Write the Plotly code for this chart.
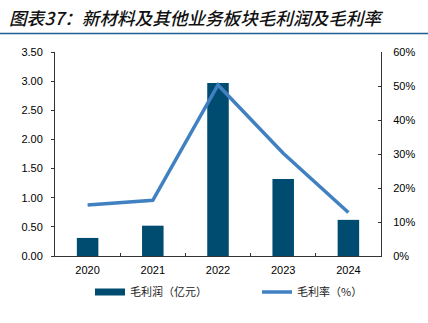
import plotly.graph_objects as go

years = ["2020", "2021", "2022", "2023", "2024"]
gross_profit = [0.31, 0.52, 2.97, 1.32, 0.62]   # 亿元
gross_margin = [15.0, 16.4, 50.3, 30.2, 12.8]   # %

BAR_COLOR = "#004B70"
LINE_COLOR = "#4181C2"

W, H = 428, 323
L, R, T, B = 55, 47, 52, 67
pw, ph = W - L - R, H - T - B

def px_x(x):
    return (x - L) / pw

def px_y(y):
    return (H - B - y) / ph

fig = go.Figure()
fig.add_trace(go.Bar(
    x=years, y=gross_profit, name="毛利润（亿元）",
    marker=dict(color=BAR_COLOR, line=dict(width=0)),
    width=0.33, yaxis="y", showlegend=False,
))
# legend proxy for the bar series (wide rectangle swatch)
fig.add_trace(go.Scatter(
    x=[None], y=[None], name="毛利润（亿元）", mode="lines",
    line=dict(color=BAR_COLOR, width=7), legend="legend", yaxis="y",
))
fig.add_trace(go.Scatter(
    x=years, y=gross_margin, name="毛利率（%）",
    mode="lines", line=dict(color=LINE_COLOR, width=3.5),
    yaxis="y2", legend="legend2",
))

tickfont = dict(family="Liberation Sans, Arial, sans-serif", size=11, color="#000")
legfont = dict(family="Noto Sans CJK SC", size=11, color="#222")

fig.update_layout(
    width=W, height=H,
    margin=dict(l=L, r=R, t=T, b=B),
    paper_bgcolor="white", plot_bgcolor="white",
    showlegend=True,
    legend=dict(
        orientation="h", x=px_x(90), y=px_y(292), xanchor="left", yanchor="middle",
        font=legfont, itemwidth=30, bgcolor="rgba(0,0,0,0)",
    ),
    legend2=dict(
        orientation="h", x=px_x(257), y=px_y(292), xanchor="left", yanchor="middle",
        font=legfont, itemwidth=30, bgcolor="rgba(0,0,0,0)",
    ),
    xaxis=dict(
        type="category", showgrid=False, showline=True, linecolor="#333", linewidth=1,
        ticks="inside", tickson="boundaries", ticklen=3, tickcolor="#333",
        tickfont=tickfont, range=[-0.5, 4.5], ticklabelstandoff=4,
    ),
    yaxis=dict(
        range=[0, 3.5], dtick=0.5, tickformat=".2f", showgrid=False,
        showline=True, linecolor="#333", linewidth=1, ticks="outside", ticklen=3,
        tickcolor="#333", tickfont=tickfont, zeroline=False, ticklabelstandoff=6,
    ),
    yaxis2=dict(
        range=[0, 60], dtick=10, ticksuffix="%", overlaying="y", side="right",
        showgrid=False, showline=True, linecolor="#333", linewidth=1,
        ticks="inside", ticklen=3, tickcolor="#333", tickfont=tickfont, zeroline=False,
        ticklabelstandoff=9,
    ),
    bargap=0.67,
)

fig.add_annotation(
    text="图表37：新材料及其他业务板块毛利润及毛利率",
    xref="paper", yref="paper", x=px_x(7), y=px_y(18),
    xanchor="left", yanchor="middle", showarrow=False,
    font=dict(family="Noto Sans CJK SC", size=17.6, color="#111", style="italic", weight=500),
)
fig.add_shape(
    type="line", xref="paper", yref="paper",
    x0=px_x(0), x1=px_x(W), y0=px_y(33.5), y1=px_y(33.5),
    line=dict(color="#1F5E92", width=1.5),
)

fig.write_html("out.html")
